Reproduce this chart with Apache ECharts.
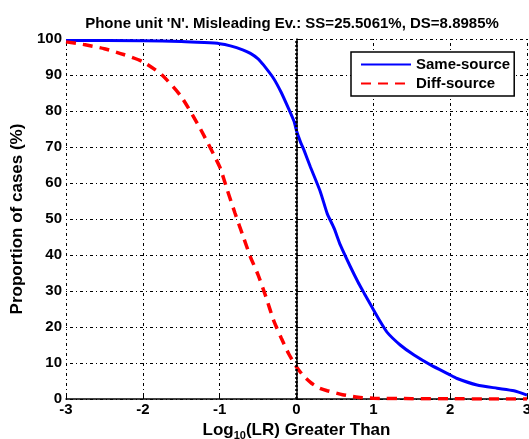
<!DOCTYPE html>
<html><head><meta charset="utf-8">
<script src="https://cdn.jsdelivr.net/npm/echarts@6/dist/echarts.min.js"></script>
<style>html,body{margin:0;padding:0;background:#fff;overflow:hidden}#c{width:529px;height:439px}</style>
</head><body><div id="c"></div>
<script>
const ssX = [-3,-2,-1.5,-1.2,-1,-0.86,-0.7,-0.6,-0.5,-0.43,-0.3,-0.2,-0.1,-0.03,0,0.05,0.1,0.18,0.31,0.4,0.49,0.57,0.7,0.8,0.88,0.98,1.09,1.18,1.35,1.53,1.75,1.98,2.09,2.35,2.61,2.83,3.0];
const ssY = [99.6,99.5,99.3,99.0,98.7,98.1,97,96,94.5,92.8,89.1,85.2,80.5,77,74.5,71.5,69,64.5,57.6,51.5,47.4,42.8,36.8,32.5,29.4,25.6,21.5,18.5,15,12.2,9.4,6.9,5.7,3.9,3.0,2.3,1.1];
const dsX = [-3,-2.75,-2.5,-2.25,-2,-1.75,-1.5,-1.25,-1,-0.9,-0.8,-0.7,-0.6,-0.5,-0.4,-0.3,-0.2,-0.1,0,0.1,0.2,0.3,0.4,0.6,0.8,1.0,1.5,2.0,3.0];
const dsY = [99.2,98.4,97.3,95.7,93.7,90,84,75,64.5,58,51.6,45.5,39.5,34.5,28.5,22,17,12.5,8.9,6.2,4.3,3,2.3,1.2,0.5,0.2,0.1,0.05,0];
const xTicks = [-3,-2,-1,0,1,2,3];
const yTicks = [0,10,20,30,40,50,60,70,80,90,100];
const titleText = "Phone unit 'N'. Misleading Ev.: SS=25.5061%, DS=8.8985%";
const names = ['Same-source','Diff-source'];

const zip = (a,b)=>a.map((v,i)=>[v,b[i]]);
const font = 'Liberation Sans, Arial, sans-serif';
const gridStyle = {color:'#000', width:1, type:[1,3,3,3]};
const chart = echarts.init(document.getElementById('c'));
chart.setOption({
  animation:false,
  title:{text:titleText,left:287,textAlign:'center',top:11,textStyle:{fontFamily:font,fontSize:15,fontWeight:'bold',color:'#000'}},
  grid:{left:66,right:2,top:39,bottom:40,outerBoundsMode:'none',containLabel:false},
  legend:{orient:'vertical',left:351,top:52,padding:[5,4,5,9],itemGap:4,itemWidth:50,itemHeight:14,
    backgroundColor:'#fff',borderColor:'#000',borderWidth:1.5,borderRadius:0,
    itemStyle:{opacity:0},
    textStyle:{fontFamily:font,fontSize:15,fontWeight:'bold',color:'#000'},data:names},
  xAxis:{type:'value',min:-3,max:3,interval:1,
    axisLine:{onZero:false,lineStyle:{color:'#000',width:1.5}},
    axisTick:{inside:true,length:5,lineStyle:{color:'#000'}},
    axisLabel:{fontFamily:font,fontSize:15,fontWeight:'bold',color:'#000',margin:3,
      formatter:v=>xTicks.includes(v)?String(v):''},
    splitLine:{show:true,lineStyle:gridStyle},
    name:'{a|Log}{s|10}{a|(LR) Greater Than}',nameLocation:'middle',nameGap:9,
    nameTextStyle:{rich:{a:{fontFamily:font,fontSize:17,fontWeight:'bold',color:'#000'},
      s:{fontFamily:font,fontSize:11,fontWeight:'bold',color:'#000',padding:[12,0,0,0]}}}},
  yAxis:{type:'value',min:0,max:100,interval:10,
    axisLine:{show:true,lineStyle:{color:'#000',width:1.5}},
    axisTick:{inside:true,length:5,lineStyle:{color:'#000'}},
    axisLabel:{fontFamily:font,fontSize:15,fontWeight:'bold',color:'#000',margin:4,
      formatter:v=>yTicks.includes(v)?String(v):''},
    splitLine:{show:true,lineStyle:gridStyle},
    name:'Proportion of cases (%)',nameLocation:'middle',nameGap:37,
    nameTextStyle:{fontFamily:font,fontSize:17,fontWeight:'bold',color:'#000'}},
  series:[
    {name:names[0],type:'line',data:zip(ssX,ssY),showSymbol:false,symbol:'none',smooth:0.2,
      lineStyle:{color:'#0000ff',width:3},itemStyle:{color:'#0000ff'},
      markLine:{silent:true,symbol:'none',label:{show:false},
        lineStyle:{color:'#000',width:2.5,type:[2,2]},data:[{xAxis:0}]}},
    {name:names[1],type:'line',data:zip(dsX,dsY),showSymbol:false,symbol:'none',smooth:0.2,
      lineStyle:{color:'#ff0000',width:3.5,type:[10,7]},itemStyle:{color:'#ff0000'}}
  ]
});
</script></body></html>
